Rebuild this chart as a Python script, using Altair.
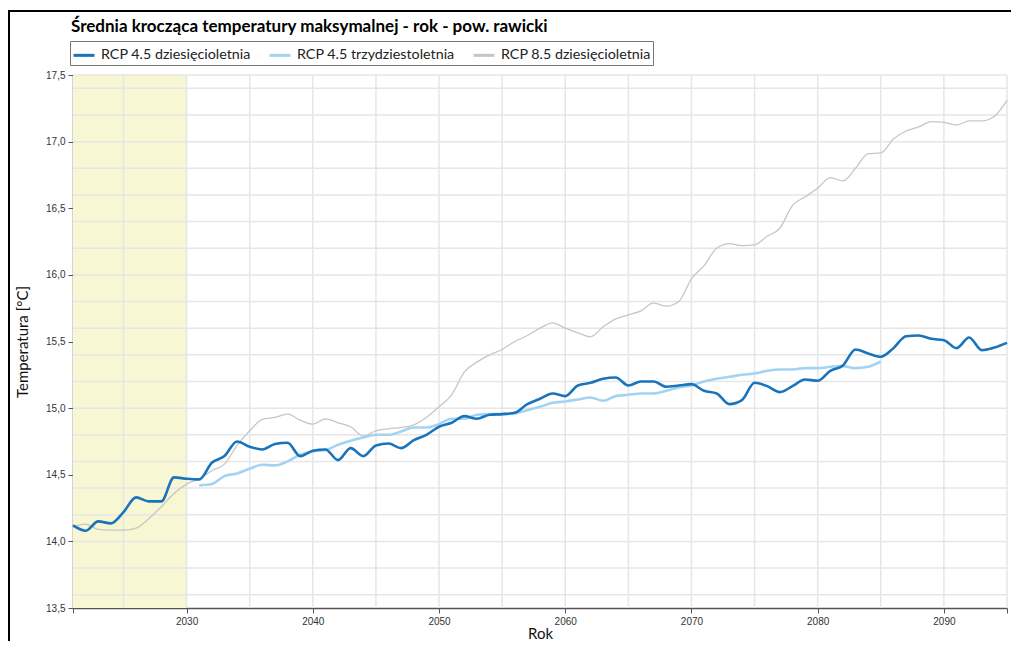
import altair as alt
import pandas as pd

# ---- data ----
years_long = list(range(2021, 2096))
years_30 = list(range(2031, 2086))

rcp45_10 = [14.12, 14.08, 14.15, 14.135, 14.22, 14.33, 14.30, 14.30, 14.48, 14.47,
            14.465, 14.59, 14.64, 14.75, 14.71, 14.69, 14.73, 14.74, 14.64, 14.68,
            14.69, 14.61, 14.70, 14.64, 14.72, 14.735, 14.70, 14.76, 14.80, 14.86,
            14.89, 14.94, 14.92, 14.95, 14.955, 14.965, 15.03, 15.07, 15.11, 15.09,
            15.17, 15.19, 15.22, 15.23, 15.17, 15.20, 15.20, 15.16, 15.17, 15.18,
            15.13, 15.11, 15.03, 15.06, 15.19, 15.165, 15.12, 15.165, 15.215, 15.205,
            15.28, 15.32, 15.44, 15.41, 15.385, 15.45, 15.54, 15.545, 15.52, 15.51,
            15.45, 15.53, 15.435, 15.455, 15.49]

rcp45_30 = [14.42, 14.43, 14.49, 14.51, 14.545, 14.575, 14.57, 14.60, 14.65, 14.675,
            14.685, 14.725, 14.755, 14.78, 14.80, 14.80, 14.825, 14.855, 14.855, 14.88,
            14.92, 14.92, 14.95, 14.955, 14.955, 14.96, 14.985, 15.01, 15.04, 15.05,
            15.065, 15.08, 15.055, 15.09, 15.10, 15.11, 15.11, 15.13, 15.155, 15.17,
            15.20, 15.22, 15.235, 15.25, 15.26, 15.28, 15.29, 15.29, 15.30, 15.30,
            15.31, 15.315, 15.30, 15.31, 15.35]

rcp85_10 = [14.11, 14.13, 14.09, 14.085, 14.085, 14.10, 14.17, 14.26, 14.36, 14.43,
            14.47, 14.53, 14.58, 14.72, 14.83, 14.915, 14.93, 14.955, 14.91, 14.88,
            14.92, 14.89, 14.86, 14.79, 14.83, 14.845, 14.855, 14.875, 14.93, 15.01,
            15.10, 15.27, 15.345, 15.40, 15.44, 15.50, 15.545, 15.60, 15.64, 15.60,
            15.565, 15.535, 15.61, 15.67, 15.70, 15.73, 15.79, 15.765, 15.80, 15.97,
            16.07, 16.20, 16.235, 16.22, 16.225, 16.29, 16.35, 16.52, 16.585, 16.65,
            16.73, 16.705, 16.80, 16.91, 16.915, 17.02, 17.08, 17.11, 17.15, 17.145,
            17.125, 17.155, 17.155, 17.19, 17.31]

series_names = ["RCP 4.5 dziesięcioletnia", "RCP 4.5 trzydziestoletnia", "RCP 8.5 dziesięcioletnia"]
series_colors = ["#1a74bb", "#a4d3f2", "#c6c6c6"]
series_widths = [2.6, 2.6, 1.3]

x_ticks = [2021, 2030, 2040, 2050, 2060, 2070, 2080, 2090, 2095]
y_ticks = [13.5, 14.0, 14.5, 15.0, 15.5, 16.0, 16.5, 17.0, 17.5]
x_grid = [2025, 2030, 2035, 2040, 2045, 2050, 2055, 2060, 2065, 2070, 2075, 2080, 2085, 2090, 2095]
y_grid = [13.6, 13.8, 14.0, 14.2, 14.4, 14.6, 14.8, 15.0, 15.2, 15.4, 15.6, 15.8, 16.0,
          16.2, 16.4, 16.6, 16.8, 17.0, 17.2, 17.4, 17.5]
band_start = [2021]
band_end = [2030]

# ---- tables ----
df = pd.concat([
    pd.DataFrame({"rok": years_long, "temp": rcp45_10, "seria": series_names[0]}),
    pd.DataFrame({"rok": years_30, "temp": rcp45_30, "seria": series_names[1]}),
    pd.DataFrame({"rok": years_long, "temp": rcp85_10, "seria": series_names[2]}),
], ignore_index=True)
band_df = pd.DataFrame({"a": band_start, "b": band_end, "lo": [13.5], "hi": [17.5]})
xg_df = pd.DataFrame({"x": x_grid})
yg_df = pd.DataFrame({"y": y_grid})

W, H = 934, 533
LABEL_FONT = "Liberation Sans"
TEXT_FONT = "Lato"

xscale = alt.Scale(domain=[2021, 2095], nice=False, zero=False)
yscale = alt.Scale(domain=[13.5, 17.5], nice=False, zero=False)

x_axis = alt.Axis(values=x_ticks, format="d", grid=False,
                  labelExpr="datum.value % 10 == 0 ? datum.label : ''",
                  labelFont=LABEL_FONT, labelFontSize=10, labelColor="#333",
                  domainColor="#555", domainWidth=1.5, tickColor="#555", tickSize=5,
                  labelPadding=3, title="Rok", titleFont=TEXT_FONT, titleFontSize=15,
                  titleFontWeight="normal", titleColor="#111",
                  titleX=W / 2, titleY=30, titleBaseline="alphabetic", titleAlign="center")
y_axis = alt.Axis(values=y_ticks, grid=False,
                  labelExpr="replace(format(datum.value, '.1f'), '.', ',')",
                  labelFont=LABEL_FONT, labelFontSize=10, labelColor="#333",
                  domainColor="#555", domainWidth=1.5, tickColor="#555", tickSize=5,
                  labelPadding=3, title="Temperatura [°C]", titleFont=TEXT_FONT,
                  titleFontSize=15, titleFontWeight="normal", titleColor="#111",
                  titleAngle=270, titleX=-51, titleY=H / 2, titleBaseline="middle",
                  titleAlign="center")

band = alt.Chart(band_df).mark_rect(color="#f7f7d3").encode(
    x=alt.X("a:Q", scale=xscale, axis=x_axis),
    x2="b:Q",
    y=alt.Y("lo:Q", scale=yscale, axis=y_axis),
    y2="hi:Q",
)

vgrid = alt.Chart(xg_df).mark_rule(color="#e6e6e6", strokeWidth=1.5).encode(
    x=alt.X("x:Q", scale=xscale), y=alt.value(0), y2=alt.value(H))
hgrid = alt.Chart(yg_df).mark_rule(color="#e6e6e6", strokeWidth=1.5).encode(
    y=alt.Y("y:Q", scale=yscale), x=alt.value(0), x2=alt.value(W))

color = alt.Color("seria:N",
                  scale=alt.Scale(domain=series_names, range=series_colors),
                  legend=alt.Legend(orient="none", legendX=-3, legendY=-34,
                                    direction="horizontal", title=None,
                                    strokeColor="#777", fillColor="white", padding=2,
                                    symbolType="stroke", symbolSize=440,
                                    symbolStrokeWidth=3, labelFont=TEXT_FONT,
                                    labelFontSize=14.3, labelColor="#222",
                                    columnPadding=12, labelOffset=5))


def series_line(i):
    return alt.Chart(df).transform_filter(
        alt.datum.seria == series_names[i]
    ).mark_line(interpolate="monotone", strokeWidth=series_widths[i]).encode(
        x=alt.X("rok:Q", scale=xscale),
        y=alt.Y("temp:Q", scale=yscale),
        color=color,
    )


frame_left = alt.Chart(band_df).mark_rule(color="black", strokeWidth=2).encode(
    x=alt.value(-64), y=alt.value(-64), y2=alt.value(H + 40))
frame_top = alt.Chart(band_df).mark_rule(color="black", strokeWidth=2).encode(
    x=alt.value(-65), x2=alt.value(W + 6), y=alt.value(-64))

chart = alt.layer(
    band, vgrid, hgrid, series_line(2), series_line(1), series_line(0),
    frame_left, frame_top
).properties(
    width=W, height=H,
    title=alt.Title("Średnia krocząca temperatury maksymalnej - rok - pow. rawicki",
                    anchor="start", frame="group", font=TEXT_FONT, fontSize=17,
                    fontWeight="bold", color="black", offset=8, dy=34, dx=-2),
    padding={"left": 65, "top": 67, "right": 4, "bottom": 33},
    autosize=alt.AutoSizeParams(type="none"),
).configure_view(stroke=None)

chart.save("out.html", embed_options={"renderer": "svg", "actions": False})
